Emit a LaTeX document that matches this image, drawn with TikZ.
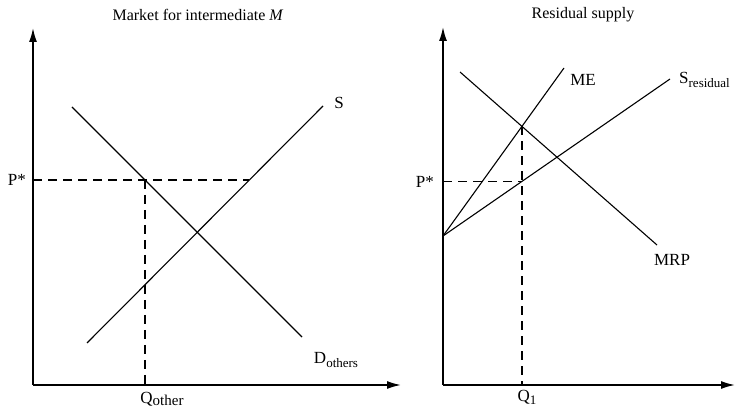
\documentclass[tikz,border=0pt]{standalone}
\usepackage{fontspec}
\setmainfont{Liberation Serif}
\usetikzlibrary{arrows.meta}

\begin{document}
\begin{tikzpicture}[x=1pt, y=1pt,
    every node/.style={font=\fontsize{17}{20}\selectfont, inner sep=1pt},
    title/.style={font=\fontsize{16}{19}\selectfont},
    axis/.style={line width=1.6pt, -{Latex[length=14pt, width=8pt]}},
    curve/.style={line width=1.1pt},
    guide/.style={line width=1.1pt, dash pattern=on 9pt off 6pt}]
  \useasboundingbox (0,0) rectangle (735,409);

  % Left: market for intermediate M
  \coordinate (O1) at (33,24);
  \coordinate (y1) at (33,381);
  \coordinate (x1) at (401,24);
  \draw[axis] (O1) -- (y1);
  \draw[axis] (O1) -- (x1);
  \node[title] (title1) at (198,394) {Market for intermediate \textit{M}};

  \coordinate (d1) at (72,302);
  \coordinate (d2) at (302,72);
  \coordinate (s1) at (87,66);
  \coordinate (s2) at (323,303);
  \draw[curve] (d1) -- (d2);
  \draw[curve] (s1) -- (s2);
  \node (lblS) at (339,306) {S};
  \node (lblD) at (336,49) {D\raisebox{-4pt}{\fontsize{13}{13}\selectfont others}};

  % price line and quantity
  \coordinate (eq1) at (145,229);
  \coordinate (ps1) at (249,229);
  \coordinate (q1) at (eq1 |- O1);
  \draw[guide] (eq1 -| O1) -- (ps1);
  \draw[guide] (eq1) -- (q1);
  \node[anchor=east] (lblP1) at (27,229) {P*};
  \node (lblQ1) at (162,10) {Q\raisebox{-2pt}{\fontsize{15}{15}\selectfont other}};

  % Right: residual supply
  \coordinate (O2) at (443,24);
  \coordinate (y2) at (443,382);
  \coordinate (x2) at (735,24);
  \draw[axis] (O2) -- (y2);
  \draw[axis] (O2) -- (x2);
  \node[title] (title2) at (583,394) {Residual supply};

  \coordinate (base) at (443,173);
  \coordinate (m1) at (460,337);
  \coordinate (m2) at (657,164);
  \coordinate (me) at (564,341);
  \coordinate (sr) at (670,330);
  \draw[curve] (m1) -- (m2);
  \draw[curve] (base) -- (me);
  \draw[curve] (base) -- (sr);
  \node (lblME) at (583,329) {ME};
  \node (lblMRP) at (672,149) {MRP};
  \node[anchor=west] (lblSr) at (678,329) {S\raisebox{-4pt}{\fontsize{13}{13}\selectfont residual}};

  % where ME meets MRP
  \coordinate (eq2) at (intersection of m1--m2 and base--me);
  \coordinate (q2) at (eq2 |- O2);
  \coordinate (ps2) at (intersection of base--sr and eq2--q2);
  \draw[guide] (ps2 -| O2) -- (ps2);
  \draw[guide] (eq2) -- (q2);
  \node[anchor=east] (lblP2) at (435,227) {P*};
  \node (lblQ2) at (527,12) {Q\raisebox{-3pt}{\fontsize{13}{13}\selectfont 1}};
\end{tikzpicture}
\end{document}
